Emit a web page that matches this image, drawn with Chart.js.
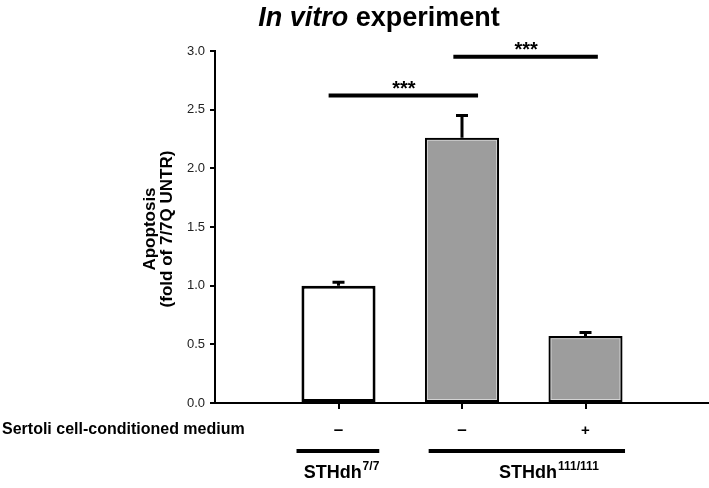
<!DOCTYPE html>
<html lang="en">
<head>
    <meta charset="UTF-8">
    <title>In vitro experiment</title>
    <script src="https://cdn.jsdelivr.net/npm/chart.js"></script>
    <style>
        body { margin: 0; background: #fff; }
        #wrap { width: 709px; height: 488px; position: relative; }
    </style>
</head>
<body>
<div id="wrap"><canvas id="apoptosisChart"></canvas></div>
<script>
        // bar data (x position on linear axis, mean, SEM)
        const positions = [1, 2, 3];
        const means = [1.0, 2.26, 0.57];
        const errors = [0.03, 0.19, 0.03];
        const mediumLabels = ['\u2013', '\u2013', '+'];

        // significance brackets
        const sigFrom = [0.92, 1.93];
        const sigTo = [2.13, 3.1];
        const sigLevel = [2.62, 2.95];
        const sigText = ['***', '***'];
        const sigTextX = [1.53, 2.52];

        // cell line groups under the axis
        const groupFrom = [0.66, 1.73];
        const groupTo = [1.33, 3.32];
        const groupName = ['STHdh', 'STHdh'];
        const groupSup = ['7/7', '111/111'];
        const groupTextX = [1.02, 2.7];

        const yMin = 0, yMax = 3, yStep = 0.5;

        const FONT = "'Liberation Sans', Arial, Helvetica, sans-serif";

        const extras = {
            id: 'extras',
            afterDatasetsDraw(chart) {
                const ctx = chart.ctx;
                const xs = chart.scales.x, ys = chart.scales.y;
                const meta = chart.getDatasetMeta(0);
                ctx.save();
                // light inner edge on the grey bars
                meta.data.forEach((bar, i) => {
                    if (i === 0) return;
                    const w = bar.width;
                    ctx.strokeStyle = 'rgba(235,235,235,0.9)';
                    ctx.lineWidth = 1;
                    ctx.strokeRect(bar.x - w / 2 + 2.5, bar.y + 2.5, w - 5, bar.base - bar.y - 5);
                });
                // error bars (upper only)
                ctx.strokeStyle = '#000';
                ctx.lineWidth = 3;
                positions.forEach((p, i) => {
                    const x = xs.getPixelForValue(p);
                    const y0 = ys.getPixelForValue(means[i]);
                    const y1 = ys.getPixelForValue(means[i] + errors[i]);
                    ctx.beginPath();
                    ctx.moveTo(x, y0);
                    ctx.lineTo(x, y1);
                    ctx.moveTo(x - 6, y1);
                    ctx.lineTo(x + 6, y1);
                    ctx.stroke();
                });
                ctx.restore();
            },
            afterDraw(chart) {
                const ctx = chart.ctx;
                const xs = chart.scales.x, ys = chart.scales.y;
                ctx.save();
                ctx.fillStyle = '#000';
                ctx.strokeStyle = '#000';

                // title with italic part
                ctx.textBaseline = 'alphabetic';
                ctx.textAlign = 'left';
                const f1 = 'italic bold 27px ' + FONT, f2 = 'bold 27px ' + FONT;
                ctx.font = f1;
                const w1 = ctx.measureText('In vitro').width;
                ctx.font = f2;
                const w2 = ctx.measureText(' experiment').width;
                const tx = 379 - (w1 + w2) / 2;
                ctx.font = f1;
                ctx.fillText('In vitro', tx, 26);
                ctx.font = f2;
                ctx.fillText(' experiment', tx + w1, 26);

                // y axis title
                ctx.save();
                ctx.translate(150, 229);
                ctx.rotate(-Math.PI / 2);
                ctx.textAlign = 'center';
                ctx.textBaseline = 'middle';
                ctx.font = 'bold 17px ' + FONT;
                ctx.fillText('Apoptosis', 0, 0);
                ctx.fillText('(fold of 7/7Q UNTR)', 0, 17);
                ctx.restore();

                // significance brackets
                ctx.lineWidth = 4;
                ctx.textAlign = 'center';
                ctx.textBaseline = 'alphabetic';
                ctx.font = 'bold 20px ' + FONT;
                sigFrom.forEach((f, i) => {
                    const y = ys.getPixelForValue(sigLevel[i]);
                    ctx.beginPath();
                    ctx.moveTo(xs.getPixelForValue(f), y);
                    ctx.lineTo(xs.getPixelForValue(sigTo[i]), y);
                    ctx.stroke();
                    ctx.fillText(sigText[i], xs.getPixelForValue(sigTextX[i]), y - 1);
                });

                // treatment row
                ctx.textAlign = 'left';
                ctx.font = 'bold 16px ' + FONT;
                ctx.fillText('Sertoli cell-conditioned medium', 2, 434);
                ctx.textAlign = 'center';
                positions.forEach((p, i) => {
                    ctx.font = (mediumLabels[i] === '+' ? 'bold 15px ' : 'bold 17px ') + FONT;
                    ctx.fillText(mediumLabels[i], xs.getPixelForValue(p), 435);
                });

                // group lines and labels
                ctx.lineWidth = 4;
                groupFrom.forEach((f, i) => {
                    ctx.beginPath();
                    ctx.moveTo(xs.getPixelForValue(f), 451);
                    ctx.lineTo(xs.getPixelForValue(groupTo[i]), 451);
                    ctx.stroke();
                    ctx.font = 'bold 18px ' + FONT;
                    const nw = ctx.measureText(groupName[i]).width;
                    ctx.font = 'bold 12px ' + FONT;
                    const sw = ctx.measureText(groupSup[i]).width;
                    const left = xs.getPixelForValue(groupTextX[i]) - (nw + sw) / 2;
                    ctx.textAlign = 'left';
                    ctx.font = 'bold 18px ' + FONT;
                    ctx.fillText(groupName[i], left, 478);
                    ctx.font = 'bold 12px ' + FONT;
                    ctx.fillText(groupSup[i], left + nw + 1, 470);
                });
                ctx.restore();
            }
        };

        new Chart(document.getElementById('apoptosisChart'), {
            type: 'bar',
            data: {
                datasets: [{
                    data: positions.map((p, i) => ({ x: p, y: means[i] })),
                    backgroundColor: ['#ffffff', '#9d9d9d', '#9d9d9d'],
                    borderColor: '#000',
                    borderWidth: 3,
                    borderSkipped: false,
                    categoryPercentage: 1,
                    barPercentage: 0.6
                }]
            },
            options: {
                responsive: true,
                maintainAspectRatio: false,
                animation: false,
                events: [],
                layout: { padding: { top: 51, left: 0, right: 0, bottom: 0 } },
                plugins: { legend: { display: false }, tooltip: { enabled: false }, title: { display: false } },
                scales: {
                    x: {
                        type: 'linear',
                        min: 0,
                        max: 4,
                        offset: false,
                        afterBuildTicks: scale => { scale.ticks = positions.map(v => ({ value: v })); },
                        afterFit: scale => { scale.height = 85; },
                        ticks: { callback: () => '' },
                        grid: { offset: false, drawOnChartArea: false, drawTicks: true, tickLength: 6, color: '#000', lineWidth: 2 },
                        border: { display: true, color: '#000', width: 2 }
                    },
                    y: {
                        min: yMin,
                        max: yMax,
                        afterFit: scale => { scale.width = 215; },
                        ticks: {
                            stepSize: yStep,
                            padding: 5,
                            color: '#222',
                            font: { family: FONT, size: 13 },
                            callback: v => Number(v).toFixed(1)
                        },
                        grid: { drawOnChartArea: false, drawTicks: true, tickLength: 5, color: '#000', lineWidth: 2 },
                        border: { display: true, color: '#000', width: 2 }
                    }
                }
            },
            plugins: [extras]
        });
</script>
</body>
</html>
